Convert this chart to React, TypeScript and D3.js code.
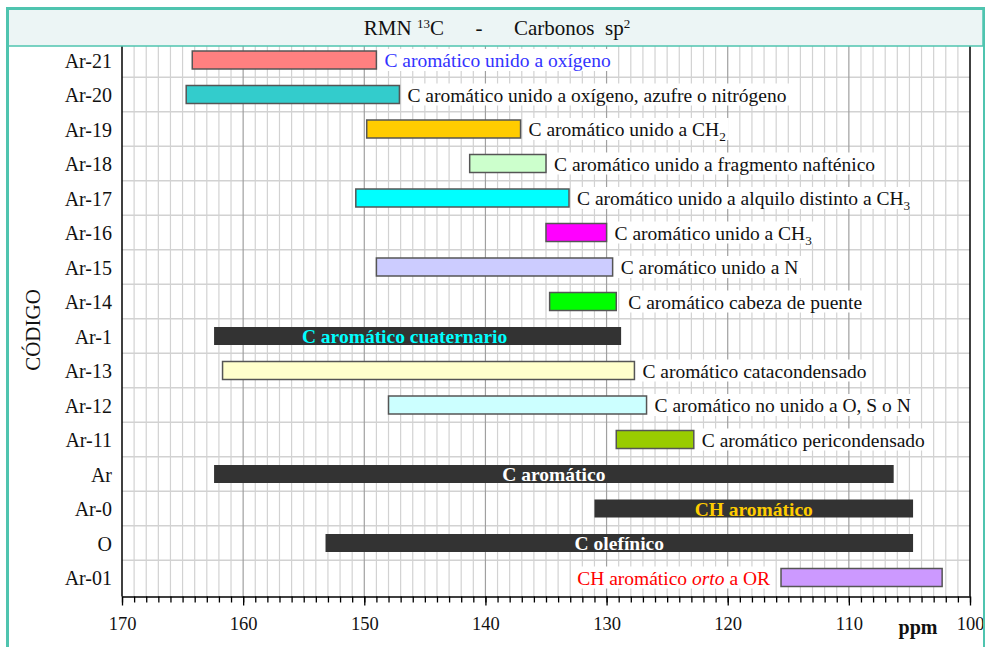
import { useRef, useEffect } from "react";
import * as d3 from "d3";

const codes = [
  "Ar-21", "Ar-20", "Ar-19", "Ar-18", "Ar-17", "Ar-16", "Ar-15", "Ar-14",
  "Ar-1", "Ar-13", "Ar-12", "Ar-11", "Ar", "Ar-0", "O", "Ar-01",
];
const starts = [164.2, 164.7, 149.8, 141.3, 150.7, 135.0, 149.0, 134.7, 162.4, 161.7, 148.0, 129.2, 162.4, 131.0, 153.2, 115.6];
const ends = [149.0, 147.1, 137.1, 135.0, 133.1, 130.0, 129.5, 129.2, 128.8, 127.7, 126.7, 122.8, 106.3, 104.7, 104.7, 102.3];
const fills = [
  "#ff8080", "#33cccc", "#ffcc00", "#ccffcc", "#00ffff", "#ff00ff", "#ccccff", "#00ff00",
  "#333333", "#ffffcc", "#ccffff", "#99cc00", "#333333", "#333333", "#333333", "#cc99ff",
];
// "_n" = subíndice, "*x*" = cursiva
const labels = [
  "C aromático unido a oxígeno",
  "C aromático unido a oxígeno, azufre o nitrógeno",
  "C aromático unido a CH_2",
  "C aromático unido a fragmento nafténico",
  "C aromático unido a alquilo distinto a CH_3",
  "C aromático unido a CH_3",
  "C aromático unido a N",
  "C aromático cabeza de puente",
  "C aromático cuaternario",
  "C aromático catacondensado",
  "C aromático no unido a O, S o N",
  "C aromático pericondensado",
  "C aromático",
  "CH aromático",
  "C olefínico",
  "CH aromático *orto* a OR",
];
const labelPlace = [
  "right", "right", "right", "right", "right", "right", "right", "right",
  "inside", "right", "right", "right", "inside", "inside", "inside", "left",
];
const labelColors = [
  "#3333ff", "#111", "#111", "#111", "#111", "#111", "#111", "#111",
  "#00ffff", "#111", "#111", "#111", "#ffffff", "#ffcc00", "#ffffff", "#ff0000",
];
const majorTicks = [170, 160, 150, 140, 130, 120, 110, 100];

const W = 986;
const H = 647;
const serif = "'Liberation Serif', 'DejaVu Serif', serif";
const teal = "#4fc4af";

const addRich = (sel, str) => {
  const parts = str.split(/(_\d|\*[^*]+\*)/).filter((p) => p.length);
  let lift = 0;
  parts.forEach((p) => {
    let ts;
    if (p.startsWith("_")) {
      ts = sel.append("tspan").attr("font-size", "0.68em").attr("dy", 5).text(p.slice(1));
      lift = -5;
      return;
    }
    if (p.startsWith("*")) {
      ts = sel.append("tspan").attr("font-style", "italic").text(p.slice(1, -1));
    } else {
      ts = sel.append("tspan").text(p);
    }
    if (lift) {
      ts.attr("dy", lift);
      lift = 0;
    }
  });
};

const App = () => {
  const ref = useRef(null);

  useEffect(() => {
    document.body.style.margin = "0";
    const svg = d3.select(ref.current);
    svg.selectAll("*").remove();

    const left = 122, right = 970, top = 42.75, bottom = 596.5;

    const x = d3.scaleLinear().domain([170, 100]).range([left, right]);
    const y = d3.scaleBand().domain(codes).range([top, top + 34.5 * 16]).padding(0);
    const barH = 18;

    svg.append("rect").attr("width", W).attr("height", H).attr("fill", "#fff");

    // rejilla
    const grid = svg.append("g");
    grid.selectAll("line.minor")
      .data(d3.range(100, 171, 1).filter((v) => v % 10 !== 0))
      .enter().append("line")
      .attr("x1", (d) => x(d)).attr("x2", (d) => x(d))
      .attr("y1", top).attr("y2", bottom)
      .attr("stroke", "#d2d2d2").attr("stroke-width", 1.2);
    grid.selectAll("line.hz")
      .data(codes.slice(1))
      .enter().append("line")
      .attr("x1", left).attr("x2", right)
      .attr("y1", (d) => y(d)).attr("y2", (d) => y(d))
      .attr("stroke", "#d2d2d2").attr("stroke-width", 1.5);
    grid.selectAll("line.major")
      .data(majorTicks.slice(1, -1))
      .enter().append("line")
      .attr("x1", (d) => x(d)).attr("x2", (d) => x(d))
      .attr("y1", top).attr("y2", bottom)
      .attr("stroke", "#a0a0a0").attr("stroke-width", 1.2);

    // barras
    const rows = codes.map((c, i) => ({ c, i }));
    svg.append("g").selectAll("rect")
      .data(rows)
      .enter().append("rect")
      .attr("x", (d) => x(starts[d.i]))
      .attr("width", (d) => x(ends[d.i]) - x(starts[d.i]))
      .attr("y", (d) => y(d.c) + y.bandwidth() / 2 - barH / 2)
      .attr("height", barH)
      .attr("fill", (d) => fills[d.i])
      .attr("stroke", (d) => (fills[d.i] === "#333333" ? "none" : "#555"))
      .attr("stroke-width", 1.5);

    // etiquetas
    const lg = svg.append("g");
    rows.forEach((d) => {
      const place = labelPlace[d.i];
      const cy = y(d.c) + y.bandwidth() / 2;
      const g = lg.append("g");
      const bg = g.append("rect").attr("fill", "#fff");
      const t = g.append("text")
        .attr("y", cy + 7)
        .attr("font-family", serif)
        .attr("font-size", 19.5)
        .attr("fill", labelColors[d.i]);
      if (place === "right") {
        t.attr("x", x(ends[d.i]) + (d.c === "Ar-14" ? 12 : 8)).attr("text-anchor", "start");
      } else if (place === "left") {
        t.attr("x", x(starts[d.i]) - 11).attr("text-anchor", "end");
      } else {
        t.attr("x", (x(starts[d.i]) + x(ends[d.i])) / 2 - (d.c === "Ar-1" ? 13 : 0))
          .attr("text-anchor", "middle")
          .attr("font-weight", "bold");
      }
      addRich(t, labels[d.i]);
      if (place === "inside") {
        bg.remove();
      } else {
        const b = t.node().getBBox();
        bg.attr("x", b.x - 3).attr("width", b.width + 6)
          .attr("y", cy - 11).attr("height", 22);
      }
    });

    // ejes
    const xMinor = svg.append("g")
      .attr("transform", `translate(0,${bottom})`)
      .call(d3.axisBottom(x).tickValues(d3.range(100, 171, 1)).tickSize(6).tickFormat(() => ""));
    xMinor.select(".domain").remove();
    xMinor.selectAll("text").remove();
    xMinor.selectAll("line").attr("stroke", "#000").attr("stroke-width", 1.3);

    const xAxis = svg.append("g")
      .attr("transform", `translate(0,${bottom})`)
      .call(d3.axisBottom(x).tickValues(majorTicks).tickSize(9).tickPadding(11).tickSizeOuter(0));
    xAxis.select(".domain").attr("stroke", "#000").attr("stroke-width", 1.5);
    xAxis.selectAll("line").attr("stroke", "#000").attr("stroke-width", 1.3);
    xAxis.selectAll("text")
      .attr("font-family", serif).attr("font-size", 18.5).attr("fill", "#111");

    const yAxis = svg.append("g")
      .attr("transform", `translate(${left},1.5)`)
      .call(d3.axisLeft(y).tickSize(0).tickPadding(10));
    yAxis.select(".domain").remove();
    yAxis.selectAll("text")
      .attr("font-family", serif).attr("font-size", 20).attr("fill", "#111");

    svg.append("line").attr("x1", left).attr("x2", left).attr("y1", top).attr("y2", bottom)
      .attr("stroke", "#000").attr("stroke-width", 1.5);
    svg.append("line").attr("x1", right).attr("x2", right).attr("y1", top).attr("y2", bottom)
      .attr("stroke", "#000").attr("stroke-width", 1.5);

    svg.append("text")
      .attr("x", 918).attr("y", 634)
      .attr("text-anchor", "middle")
      .attr("font-family", serif).attr("font-size", 20).attr("font-weight", "bold")
      .attr("fill", "#111")
      .text("ppm");

    svg.append("text")
      .attr("transform", `translate(40,330) rotate(-90)`)
      .attr("text-anchor", "middle")
      .attr("font-family", serif).attr("font-size", 21).attr("fill", "#111")
      .text("CÓDIGO");

    // título
    svg.append("rect")
      .attr("x", 8).attr("y", 9).attr("width", 975).attr("height", 37)
      .attr("fill", "#ecf5f5").attr("stroke", teal).attr("stroke-width", 1.5);
    const title = svg.append("text")
      .attr("x", 497).attr("y", 35)
      .attr("text-anchor", "middle")
      .attr("font-family", serif).attr("font-size", 21).attr("fill", "#111")
      .style("white-space", "pre");
    title.append("tspan").text("RMN ");
    title.append("tspan").attr("font-size", 13).attr("dy", -7).text("13");
    title.append("tspan").attr("dy", 7).text("C      -      Carbonos  sp");
    title.append("tspan").attr("font-size", 13).attr("dy", -7).text("2");

    // marco
    svg.append("line").attr("x1", 7.5).attr("x2", 984.5).attr("y1", 8.5).attr("y2", 8.5)
      .attr("stroke", teal).attr("stroke-width", 3);
    svg.append("line").attr("x1", 7.5).attr("x2", 7.5).attr("y1", 7).attr("y2", H)
      .attr("stroke", teal).attr("stroke-width", 3);
    svg.append("line").attr("x1", 984).attr("x2", 984).attr("y1", 7).attr("y2", H)
      .attr("stroke", teal).attr("stroke-width", 2);
  }, []);

  return <svg ref={ref} width={W} height={H} style={{ display: "block" }} />;
};

export default App;
